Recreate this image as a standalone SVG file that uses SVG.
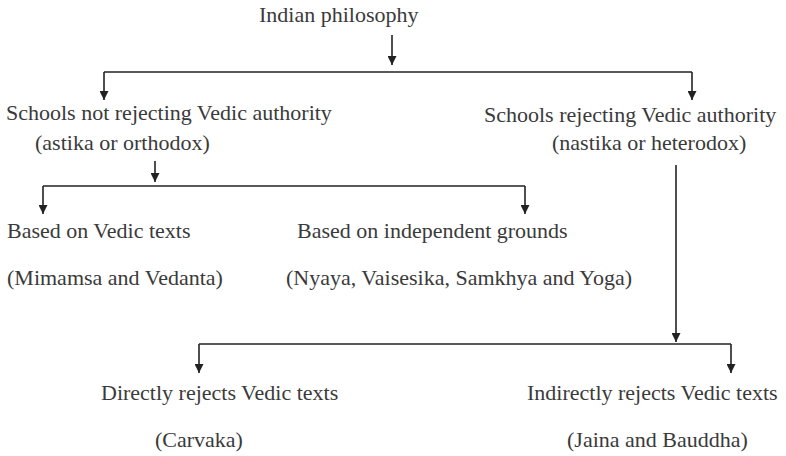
<svg xmlns="http://www.w3.org/2000/svg" width="786" height="456" viewBox="0 0 786 456">
  <style>
    .lbl { font-family: "Liberation Serif", "Times New Roman", serif; font-size: 22px; fill: #3a3a3a; }
    .conn { fill: none; stroke: #222; stroke-width: 1.6; }
  </style>
  <defs>
    <marker id="arrow" viewBox="0 0 10 10" refX="10" refY="5" markerWidth="10" markerHeight="9" markerUnits="userSpaceOnUse" orient="auto">
      <path d="M0,0 L10,5 L0,10 z" fill="#222"/>
    </marker>
  </defs>
  <rect width="786" height="456" fill="#fff"/>

  <!-- connectors: trunk arrows, horizontal bars and drop arrows -->
  <g id="connectors" class="conn">
    <line x1="392" y1="35" x2="392" y2="65" marker-end="url(#arrow)"/>
    <line x1="104" y1="72" x2="692" y2="72"/>
    <line x1="104" y1="72" x2="104" y2="100" marker-end="url(#arrow)"/>
    <line x1="692" y1="72" x2="692" y2="100" marker-end="url(#arrow)"/>

    <line x1="155" y1="161" x2="155" y2="182" marker-end="url(#arrow)"/>
    <line x1="43" y1="186" x2="525" y2="186"/>
    <line x1="43" y1="186" x2="43" y2="214" marker-end="url(#arrow)"/>
    <line x1="525" y1="186" x2="525" y2="214" marker-end="url(#arrow)"/>

    <line x1="676" y1="165" x2="676" y2="342" marker-end="url(#arrow)"/>
    <line x1="199" y1="344" x2="731" y2="344"/>
    <line x1="199" y1="344" x2="199" y2="373" marker-end="url(#arrow)"/>
    <line x1="731" y1="344" x2="731" y2="373" marker-end="url(#arrow)"/>
  </g>

  <g id="root"><text class="lbl" x="259" y="22">Indian philosophy</text></g>

  <g id="astika">
    <text class="lbl" x="6" y="120">Schools not rejecting Vedic authority</text>
    <text class="lbl" x="35" y="150">(astika or orthodox)</text>
  </g>
  <g id="nastika">
    <text class="lbl" x="484" y="122">Schools rejecting Vedic authority</text>
    <text class="lbl" x="552" y="150">(nastika or heterodox)</text>
  </g>

  <g id="vedic-texts">
    <text class="lbl" x="7" y="238">Based on Vedic texts</text>
    <text class="lbl" x="7" y="285">(Mimamsa and Vedanta)</text>
  </g>
  <g id="independent">
    <text class="lbl" x="297" y="238">Based on independent grounds</text>
    <text class="lbl" x="286" y="285">(Nyaya, Vaisesika, Samkhya and Yoga)</text>
  </g>

  <g id="direct">
    <text class="lbl" x="101" y="400">Directly rejects Vedic texts</text>
    <text class="lbl" x="155" y="447">(Carvaka)</text>
  </g>
  <g id="indirect">
    <text class="lbl" x="527" y="400">Indirectly rejects Vedic texts</text>
    <text class="lbl" x="567" y="447">(Jaina and Bauddha)</text>
  </g>
</svg>
